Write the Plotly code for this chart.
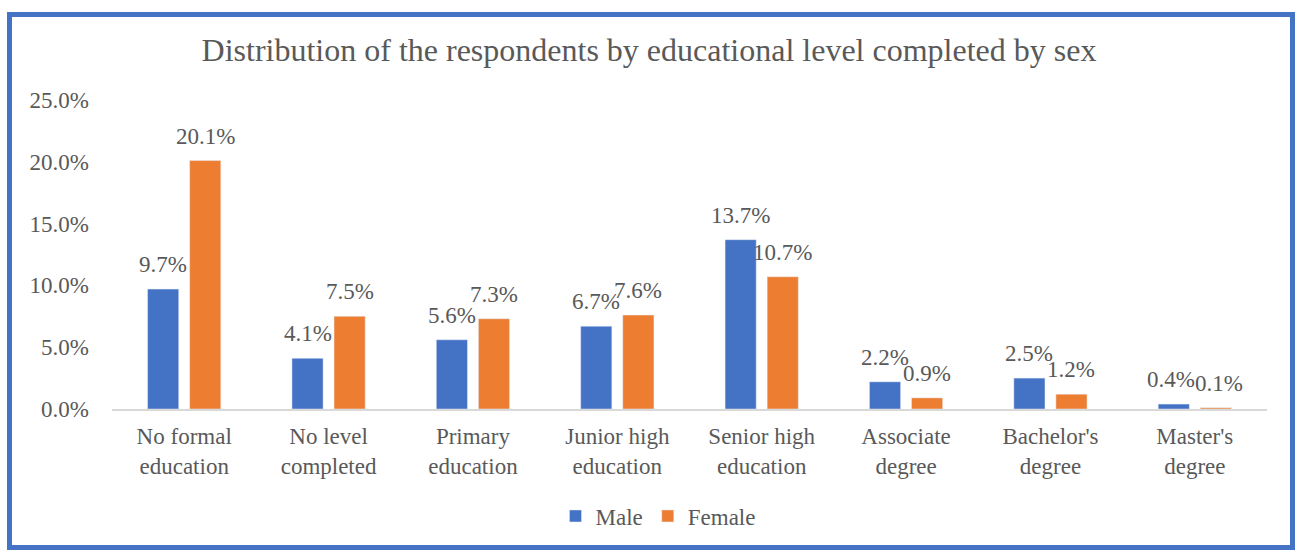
import plotly.graph_objects as go

categories = ["No formal<br>education", "No level<br>completed", "Primary<br>education",
              "Junior high<br>education", "Senior high<br>education", "Associate<br>degree",
              "Bachelor's<br>degree", "Master's<br>degree"]
male = [9.7, 4.1, 5.6, 6.7, 13.7, 2.2, 2.5, 0.4]
female = [20.1, 7.5, 7.3, 7.6, 10.7, 0.9, 1.2, 0.1]
y_ticks = [0, 5, 10, 15, 20, 25]

W, H = 1298, 552
L, R, T, B = 112, 31, 100, 143
FONT = "Liberation Serif, Times New Roman, serif"
GREY = "#595959"
FS = 23
BAR_OFFSET = 21  # half the distance between the two bars of a group, px

fig = go.Figure()
fig.add_bar(name="Male", x=categories, y=male, marker_color="#4472C4")
fig.add_bar(name="Female", x=categories, y=female, marker_color="#ED7D31")

# value labels above each bar; labels of two very short bars are pushed
# slightly apart so they do not run into each other
for i, cat in enumerate(categories):
    spread = 3 if abs(male[i] - female[i]) < 1 and max(male[i], female[i]) < 1 else 0
    for v, shift in ((male[i], -BAR_OFFSET - spread), (female[i], BAR_OFFSET + spread)):
        fig.add_annotation(x=cat, y=v, xref="x", yref="y", text=f"{v:.1f}%",
                           showarrow=False, xshift=shift, yshift=10,
                           yanchor="bottom", xanchor="center",
                           font=dict(size=FS, color=GREY, family=FONT))

# frame around the chart, given in pixels and converted to paper units
pw, ph = W - L - R, H - T - B
def px_x(x):
    return (x - L) / pw
def px_y(y):
    return (H - B - y) / ph

fig.add_shape(type="rect", xref="paper", yref="paper",
              x0=px_x(9.5), x1=px_x(1292.5), y0=px_y(547.5), y1=px_y(14.5),
              line=dict(color="#4472C4", width=5), layer="below")

fig.update_layout(
    width=W, height=H,
    margin=dict(l=L, r=R, t=T, b=B, autoexpand=False),
    paper_bgcolor="white", plot_bgcolor="white",
    barmode="group", bargap=0.417, bargroupgap=0.26,
    font=dict(family=FONT, color=GREY, size=FS),
    title=dict(text="Distribution of the respondents by educational level completed by sex",
               x=0.5, xanchor="center", y=1 - 50 / H, yanchor="middle",
               font=dict(size=32, color=GREY, family=FONT)),
    legend=dict(orientation="h", x=px_x(658), xanchor="center",
                y=px_y(516), yanchor="middle",
                font=dict(size=FS, color=GREY, family=FONT), itemwidth=30,
                traceorder="normal"),
)
fig.update_xaxes(showline=True, linecolor="#D9D9D9", linewidth=2, ticks="",
                 tickfont=dict(size=FS, color=GREY, family=FONT), showgrid=False,
                 ticklabelstandoff=5, tickangle=0)
fig.update_yaxes(range=[0, 25], tickvals=y_ticks,
                 ticktext=[f"{v:.1f}%" for v in y_ticks],
                 showgrid=False, zeroline=False, showline=False,
                 tickfont=dict(size=FS, color=GREY, family=FONT),
                 ticklabelstandoff=22)

fig.write_html("out.html")
